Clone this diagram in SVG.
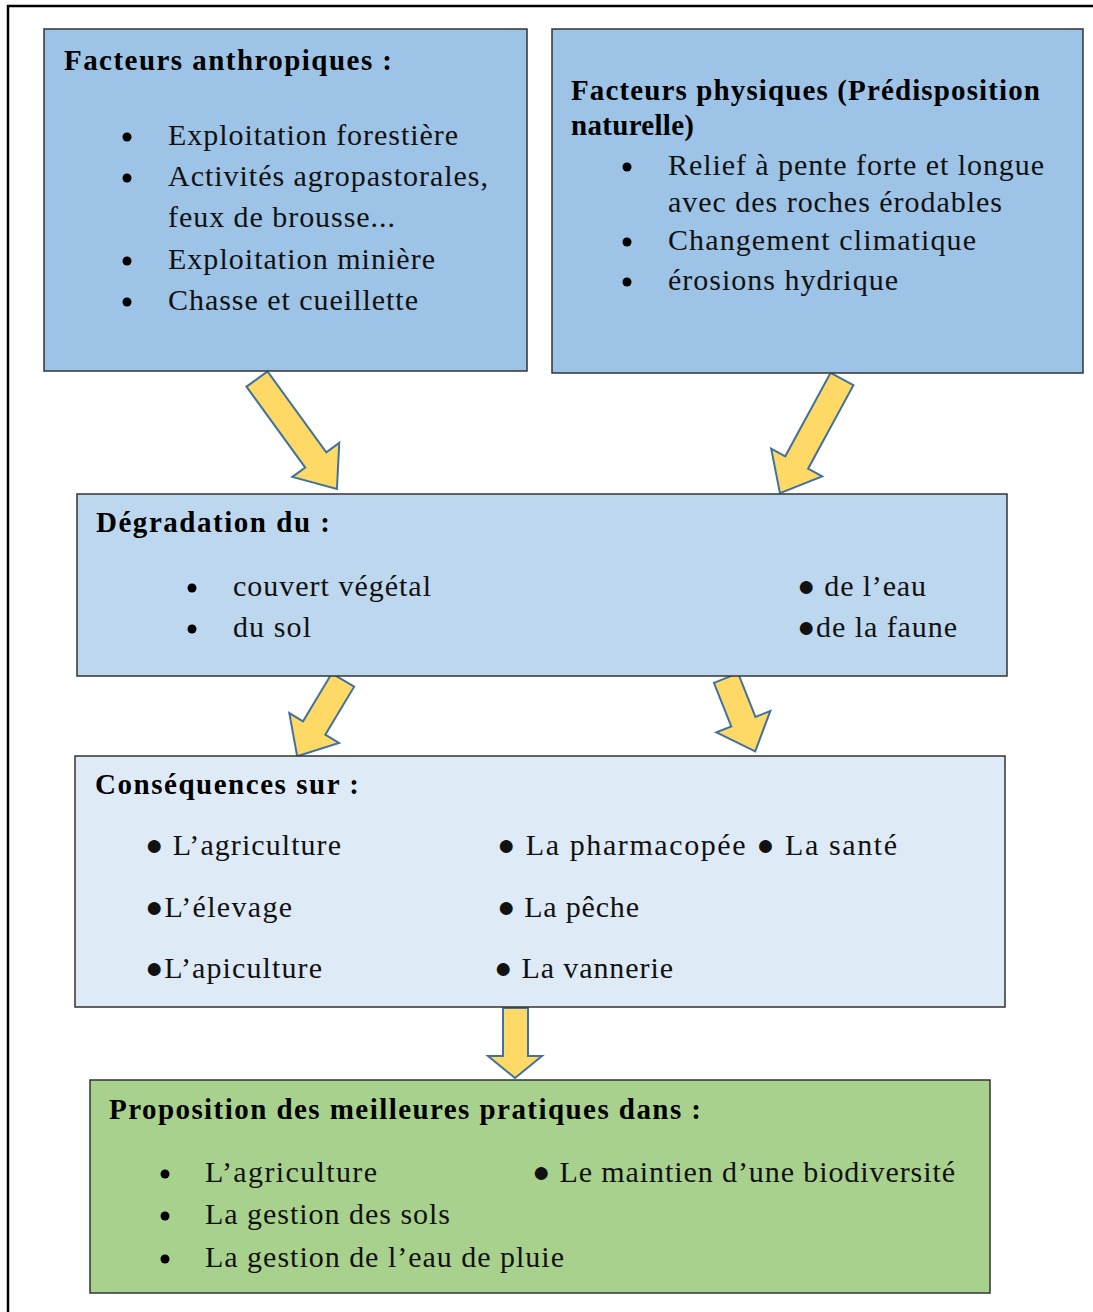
<svg xmlns="http://www.w3.org/2000/svg" width="1093" height="1312" viewBox="0 0 1093 1312">
<style>
.box{stroke:#333;stroke-width:1.5}
.t{font-family:"Liberation Serif","Times New Roman",serif;font-size:30px;fill:#111}
.b{font-family:"Liberation Serif","Times New Roman",serif;font-size:29px;font-weight:bold;fill:#000}
.arr{fill:#ffd966;stroke:#41719c;stroke-width:2;stroke-linejoin:miter}
</style>
<defs>
<symbol id="dot" overflow="visible"><circle r="4.5" fill="#000"/></symbol>
</defs>
<rect x="8" y="6" width="1100" height="1320" fill="#fff" stroke="#000" stroke-width="2.5"/>
<g id="connectors">
<polygon class="arr" transform="translate(257,379) rotate(-36)" points="-13,0 13,0 13,100 29,100 0,136 -29,100 -13,100"/>
<polygon class="arr" transform="translate(842,379) rotate(28.5)" points="-13,0 13,0 13,95 29,95 0,130 -29,95 -13,95"/>
<polygon class="arr" transform="translate(343,680) rotate(31)" points="-13,0 13,0 13,56 29,56 0,89 -29,56 -13,56"/>
<polygon class="arr" transform="translate(726,678) rotate(-21.7)" points="-13,0 13,0 13,47 29,47 0,79 -29,47 -13,47"/>
<polygon class="arr" points="503,1008 528,1008 528,1056 542,1056 515,1078 488,1056 503,1056"/>
</g>
<g id="n1">
<rect class="box" x="44" y="29" width="483" height="342" fill="#9dc3e6"/>
<text class="b" x="64" y="70" textLength="328" lengthAdjust="spacing">Facteurs anthropiques :</text>
<use href="#dot" x="127" y="137"/><text class="t" x="168" y="145" textLength="290" lengthAdjust="spacing">Exploitation forestière</text>
<use href="#dot" x="127" y="178"/><text class="t" x="168" y="186" textLength="320" lengthAdjust="spacing">Activités agropastorales,</text>
<text class="t" x="168" y="227" textLength="227" lengthAdjust="spacing">feux de brousse...</text>
<use href="#dot" x="127" y="261"/><text class="t" x="168" y="269" textLength="267" lengthAdjust="spacing">Exploitation minière</text>
<use href="#dot" x="127" y="302"/><text class="t" x="168" y="310" textLength="250" lengthAdjust="spacing">Chasse et cueillette</text>
</g>
<g id="n2">
<rect class="box" x="552" y="29" width="531" height="344" fill="#9dc3e6"/>
<text class="b" x="571" y="100" textLength="469" lengthAdjust="spacing">Facteurs physiques (Prédisposition</text>
<text class="b" x="571" y="135" textLength="123" lengthAdjust="spacing">naturelle)</text>
<use href="#dot" x="627" y="167"/><text class="t" x="668" y="175" textLength="376" lengthAdjust="spacing">Relief à pente forte et longue</text>
<text class="t" x="668" y="212" textLength="334" lengthAdjust="spacing">avec des roches érodables</text>
<use href="#dot" x="627" y="242"/><text class="t" x="668" y="250" textLength="308" lengthAdjust="spacing">Changement climatique</text>
<use href="#dot" x="627" y="282"/><text class="t" x="668" y="290" textLength="230" lengthAdjust="spacing">érosions hydrique</text>
</g>
<g id="n3">
<rect class="box" x="77" y="494" width="930" height="182" fill="#bdd7ee"/>
<text class="b" x="96" y="532" textLength="234" lengthAdjust="spacing">Dégradation du :</text>
<use href="#dot" x="192" y="588"/><text class="t" x="233" y="596" textLength="198" lengthAdjust="spacing">couvert végétal</text>
<use href="#dot" x="192" y="629"/><text class="t" x="233" y="637" textLength="78" lengthAdjust="spacing">du sol</text>
<text class="t" x="797" y="596" textLength="129" lengthAdjust="spacing">● de l’eau</text>
<text class="t" x="797" y="637" textLength="160" lengthAdjust="spacing">●de la faune</text>
</g>
<g id="n4">
<rect class="box" x="75" y="756" width="930" height="251" fill="#deebf7"/>
<text class="b" x="95" y="794" textLength="264" lengthAdjust="spacing">Conséquences sur :</text>
<text class="t" x="145" y="855" textLength="196" lengthAdjust="spacing">● L’agriculture</text>
<text class="t" x="145" y="917" textLength="147" lengthAdjust="spacing">●L’élevage</text>
<text class="t" x="145" y="978" textLength="177" lengthAdjust="spacing">●L’apiculture</text>
<text class="t" x="497" y="855" textLength="400" lengthAdjust="spacing">● La pharmacopée  ●  La santé</text>
<text class="t" x="497" y="917" textLength="142" lengthAdjust="spacing">● La pêche</text>
<text class="t" x="494" y="978" textLength="179" lengthAdjust="spacing">● La vannerie</text>
</g>
<g id="n5">
<rect class="box" x="90" y="1080" width="900" height="213" fill="#a9d18e"/>
<text class="b" x="109" y="1119" textLength="592" lengthAdjust="spacing">Proposition des meilleures pratiques dans :</text>
<use href="#dot" x="165" y="1174"/><text class="t" x="205" y="1182" textLength="172" lengthAdjust="spacing">L’agriculture</text>
<use href="#dot" x="165" y="1216"/><text class="t" x="205" y="1224" textLength="245" lengthAdjust="spacing">La gestion des sols</text>
<use href="#dot" x="165" y="1259"/><text class="t" x="205" y="1267" textLength="359" lengthAdjust="spacing">La gestion de l’eau de pluie</text>
<text class="t" x="532" y="1182" textLength="423" lengthAdjust="spacing">● Le maintien d’une biodiversité</text>
</g>
</svg>
